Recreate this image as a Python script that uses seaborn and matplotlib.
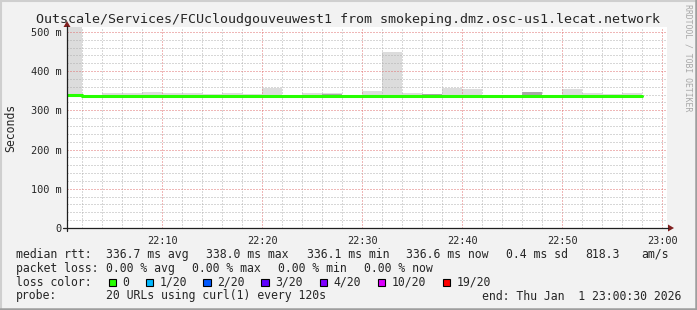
import numpy as np
import pandas as pd
import matplotlib
matplotlib.use("Agg")
import matplotlib.pyplot as plt
import matplotlib.dates as mdates
from matplotlib.lines import Line2D
from matplotlib.patches import Polygon, Rectangle
import seaborn as sns

# ---------------- data ----------------
title = "Outscale/Services/FCUcloudgouveuwest1 from smokeping.dmz.osc-us1.lecat.network"
graph_start = "2026-01-01 22:00:30"
graph_end = "2026-01-01 23:00:30"
first_step = "2026-01-01 22:00"
step = "2min"

median_ms = [339.0, 336.3, 337.6, 337.6, 336.3, 337.4, 337.4, 336.3, 337.6, 336.3,
             337.5, 336.4, 336.8, 336.6, 336.9, 337.0, 337.0, 336.8, 336.6, 337.0,
             337.2, 336.3, 337.4, 336.6, 336.4, 337.2, 337.1, 337.0, 336.6]
smoke_max_ms = [545, 339, 345, 345, 348, 344, 344, 341, 345, 341,
                358, 338, 345, 345, 338, 350, 449, 343, 341, 358,
                355, 338, 338, 347, 338, 355, 344, 341, 344]
smoke_dense_ms = [339.0, 336.3, 337.6, 337.6, 336.3, 337.4, 337.4, 336.3, 337.6, 336.3,
                  337.5, 336.4, 336.8, 342, 336.9, 337.0, 337.0, 336.8, 342, 337.0,
                  337.2, 336.3, 337.4, 346, 336.4, 337.2, 337.1, 337.0, 336.6]

y_ticks = [0, 100, 200, 300, 400, 500]

legend_rtt = [("median rtt:", 16), ("336.7 ms avg", 107), ("338.0 ms max", 207),
              ("336.1 ms min", 307.5), ("336.6 ms now", 407), ("0.4 ms sd", 507),
              ("818.3", 586), ("am/s", 642)]
legend_loss = [("packet loss:", 16), ("0.00 % avg", 107), ("0.00 % max", 193),
               ("0.00 % min", 279), ("0.00 % now", 365)]
loss_labels = ["0", "1/20", "2/20", "3/20", "4/20", "10/20", "19/20"]
loss_colors = ["#26ff00", "#00b8ff", "#0059ff", "#5e00ff", "#7e00ff", "#dd00ff", "#ff0000"]
probe_text = "20 URLs using curl(1) every 120s"
end_text = "end: Thu Jan  1 23:00:30 2026"

# ---------------- style ----------------
sns.set_style("white")
plt.rcParams["font.family"] = ["DejaVu Sans Mono", "DejaVu Sans"]

W, H = 697, 310
fig = plt.figure(figsize=(W / 100, H / 100), dpi=100)
fig.patch.set_facecolor("#f2f2f2")

def fx(x):
    return x / W

def fy(y):
    return 1 - y / H

PL, PR, PT, PB = 67, 667, 27, 228
ax = fig.add_axes([fx(PL), fy(PB), (PR - PL) / W, (PB - PT) / H])
ax.set_facecolor("white")

starts = pd.date_range(first_step, periods=len(median_ms), freq=step)
edges = list(starts) + [starts[-1] + pd.Timedelta(step)]
med_ext = median_ms + [median_ms[-1]]
max_ext = smoke_max_ms + [smoke_max_ms[-1]]
den_ext = smoke_dense_ms + [smoke_dense_ms[-1]]
low_ext = [m - 1 for m in med_ext]

df = pd.DataFrame({"time": edges, "median": med_ext})

ax.fill_between(edges, low_ext, max_ext, step="post", color="#dcdcdc", lw=0, zorder=0.2)
ax.fill_between(edges, low_ext, den_ext, step="post", color="#a8a8a8", lw=0, zorder=0.25)
sns.lineplot(data=df, x="time", y="median", drawstyle="steps-post", color="#26ff00",
             linewidth=2.2, ax=ax, zorder=3, estimator=None, sort=False)

ax.set_xlim(pd.Timestamp(graph_start), pd.Timestamp(graph_end))
ax.set_ylim(0, (PB - PT) / 0.3922)

ax.xaxis.set_major_locator(mdates.MinuteLocator(byminute=range(0, 60, 10)))
ax.xaxis.set_minor_locator(mdates.MinuteLocator(byminute=range(0, 60, 2)))
ax.xaxis.set_major_formatter(mdates.DateFormatter("%H:%M"))
ax.yaxis.set_major_locator(matplotlib.ticker.FixedLocator(y_ticks))
ax.yaxis.set_minor_locator(matplotlib.ticker.MultipleLocator(20))
ax.yaxis.set_major_formatter(matplotlib.ticker.FuncFormatter(
    lambda v, p: "0" if v == 0 else f"{int(v)} m"))

ax.set_axisbelow(True)
ax.grid(which="minor", color="#b0b0b0", linestyle=(0, (1, 2)), linewidth=0.72)
ax.grid(which="major", color="#e07070", linestyle=(0, (1, 2)), linewidth=0.72)
for axis in (ax.xaxis, ax.yaxis):
    for t in axis.get_minor_ticks():
        t.gridline.set_zorder(1)
    for t in axis.get_major_ticks():
        t.gridline.set_zorder(1.1)
ax.tick_params(which="major", length=2.5, width=0.72, color="#e58c8c",
               labelsize=7.4, pad=1.5, direction="out")
ax.tick_params(which="minor", length=1.5, width=0.72, color="#c4c4c4", direction="out")
ax.tick_params(axis="x", which="major", pad=3)
ax.set_xlabel("")
ax.set_ylabel("")
for s in ax.spines.values():
    s.set_visible(False)

# axes lines with arrows
fig.add_artist(Line2D([fx(63), fx(668)], [fy(PB), fy(PB)], color="#1f1f1f", lw=0.9))
fig.add_artist(Line2D([fx(PL), fx(PL)], [fy(231), fy(26)], color="#1f1f1f", lw=0.9))
fig.add_artist(Polygon([[fx(668), fy(PB - 3.5)], [fx(668), fy(PB + 3.5)], [fx(674), fy(PB)]],
                       closed=True, fc="#801f1f", ec="none", transform=fig.transFigure))
fig.add_artist(Polygon([[fx(PL - 3.5), fy(27)], [fx(PL + 3.5), fy(27)], [fx(PL), fy(21)]],
                       closed=True, fc="#801f1f", ec="none", transform=fig.transFigure))

# texts
fig.text(0.5, fy(20), title, ha="center", va="center", fontsize=9.6)
fig.text(fx(11), fy((PT + PB) / 2), "Seconds", rotation=90, ha="center", va="center", fontsize=8.3)
fig.text(fx(688), fy(4), "RRDTOOL / TOBI OETIKER", rotation=270, ha="center", va="top",
         fontsize=5.9, color="#a8a8a8")

LF = 8.3
for s, x in legend_rtt:
    fig.text(fx(x - 0.5), fy(254.3), s, ha="left", va="center", fontsize=LF)
for s, x in legend_loss:
    fig.text(fx(x - 0.5), fy(268.3), s, ha="left", va="center", fontsize=LF)
fig.text(fx(15.5), fy(282.3), "loss color:", ha="left", va="center", fontsize=LF)
box_x = [108.5, 145.5, 203, 261, 319.5, 377.5, 442.5]
lab_x = [123, 160.5, 218, 276, 334, 392.5, 457]
for lab, col, bx, lx in zip(loss_labels, loss_colors, box_x, lab_x):
    fig.add_artist(Rectangle((fx(bx), fy(286.3)), 7.5 / W, 7.5 / H, transform=fig.transFigure,
                             fc=col, ec="black", lw=0.8))
    fig.text(fx(lx - 0.5), fy(282.3), lab, ha="left", va="center", fontsize=LF)
fig.text(fx(15.5), fy(296), "probe:", ha="left", va="center", fontsize=LF)
fig.text(fx(106.5), fy(296), probe_text, ha="left", va="center", fontsize=LF)
fig.text(fx(681), fy(296), end_text, ha="right", va="center", fontsize=LF)

# 3D border
fig.add_artist(Line2D([0, 1], [fy(0.8), fy(0.8)], color="#cfcfcf", lw=1.5))
fig.add_artist(Line2D([fx(0.8), fx(0.8)], [0, 1], color="#cfcfcf", lw=1.5))
fig.add_artist(Line2D([0, 1], [fy(308.8), fy(308.8)], color="#9e9e9e", lw=1.8))
fig.add_artist(Line2D([fx(695.8), fx(695.8)], [0, 1], color="#9e9e9e", lw=1.8))

fig.savefig("out.png", dpi=100, facecolor=fig.get_facecolor())
